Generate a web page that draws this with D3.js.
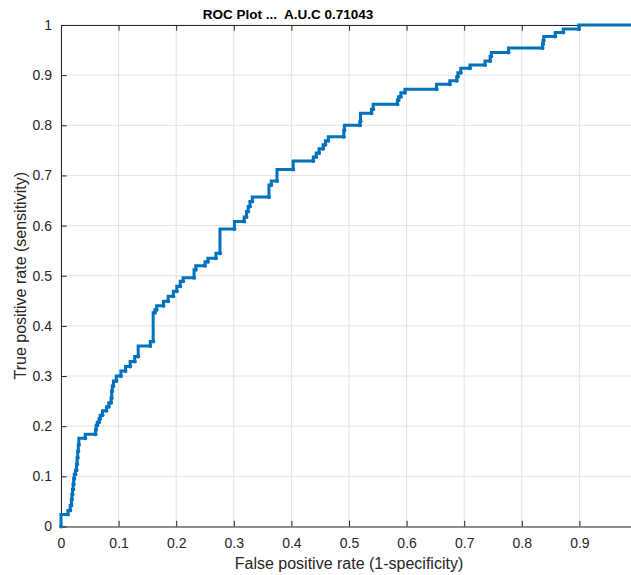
<!DOCTYPE html>
<html>

<head>
    <meta charset="UTF-8">
</head>

<body style="margin:0;background:#fff">
    <style>
        text {
            font-family: "Liberation Sans", Arial, sans-serif;
            fill: #262626;
        }
    </style>

    <div id="chart"></div>

    <script src="https://d3js.org/d3.v7.min.js"></script>
    <script>

        // ROC step corners: end of each horizontal run
        const fpr = [0, 0.012, 0.016, 0.018, 0.019, 0.020, 0.021, 0.022, 0.023, 0.025, 0.027, 0.028, 0.029, 0.030, 0.031,
            0.042, 0.060, 0.061, 0.063, 0.066, 0.068, 0.072, 0.079, 0.083, 0.087, 0.088, 0.089, 0.091, 0.096, 0.104,
            0.112, 0.120, 0.128, 0.134, 0.155, 0.160, 0.163, 0.166, 0.178, 0.186, 0.195, 0.201, 0.207, 0.212, 0.231,
            0.234, 0.250, 0.255, 0.269, 0.276, 0.301, 0.318, 0.322, 0.325, 0.328, 0.332, 0.361, 0.365, 0.375, 0.403,
            0.438, 0.443, 0.448, 0.455, 0.459, 0.464, 0.491, 0.492, 0.519, 0.520, 0.539, 0.542, 0.584, 0.586, 0.590,
            0.597, 0.652, 0.675, 0.687, 0.689, 0.694, 0.710, 0.736, 0.745, 0.747, 0.777, 0.836, 0.837, 0.838, 0.858,
            0.872, 0.899, 1.0];
        const tpr = [0, 0.024, 0.032, 0.042, 0.054, 0.064, 0.074, 0.084, 0.095, 0.104, 0.112, 0.124, 0.137, 0.150, 0.163,
            0.176, 0.184, 0.193, 0.202, 0.208, 0.215, 0.222, 0.231, 0.239, 0.247, 0.256, 0.270, 0.280, 0.290, 0.300,
            0.310, 0.319, 0.329, 0.339, 0.360, 0.369, 0.426, 0.432, 0.440, 0.449, 0.459, 0.469, 0.479, 0.489, 0.496,
            0.512, 0.520, 0.528, 0.535, 0.545, 0.593, 0.608, 0.617, 0.628, 0.638, 0.648, 0.657, 0.681, 0.689, 0.712,
            0.729, 0.737, 0.745, 0.753, 0.761, 0.769, 0.777, 0.790, 0.800, 0.808, 0.824, 0.832, 0.842, 0.850, 0.857,
            0.865, 0.872, 0.882, 0.889, 0.897, 0.905, 0.914, 0.920, 0.928, 0.937, 0.945, 0.954, 0.962, 0.969, 0.977,
            0.985, 0.992, 1.0];

        const xTicks = [0, 0.1, 0.2, 0.3, 0.4, 0.5, 0.6, 0.7, 0.8, 0.9, 1];
        const yTicks = [0, 0.1, 0.2, 0.3, 0.4, 0.5, 0.6, 0.7, 0.8, 0.9, 1];
        const titleText = "ROC Plot ...  A.U.C 0.71043";

        const W = 631, H = 575;
        // axes box runs past the right edge of the picture, as in the original
        const mLeft = 61, mRight = 637, mTop = 25, mBottom = 526.5;

        const svg = d3.select("#chart")
            .append("svg")
            .attr("width", W)
            .attr("height", H)
            .style("display", "block");

        const x = d3.scaleLinear().domain([0, 1]).range([mLeft, mRight]);
        const y = d3.scaleLinear().domain([0, 1]).range([mBottom, mTop]);

        // grid
        svg.append("g")
            .selectAll("line")
            .data(xTicks)
            .join("line")
            .attr("x1", d => x(d)).attr("x2", d => x(d))
            .attr("y1", mTop).attr("y2", mBottom)
            .attr("stroke", "#e3e3e3").attr("stroke-width", 1);
        svg.append("g")
            .selectAll("line")
            .data(yTicks)
            .join("line")
            .attr("x1", mLeft).attr("x2", mRight)
            .attr("y1", d => y(d)).attr("y2", d => y(d))
            .attr("stroke", "#e3e3e3").attr("stroke-width", 1);

        // axes (ticks point inward)
        const tick = 5.7;
        const fmt = d => d3.format("")(d);

        const xAxis = svg.append("g")
            .attr("transform", `translate(0,${mBottom})`)
            .call(d3.axisBottom(x).tickValues(xTicks).tickFormat(fmt).tickSizeInner(-tick).tickSizeOuter(0).tickPadding(12));
        const xTop = svg.append("g")
            .attr("transform", `translate(0,${mTop})`)
            .call(d3.axisTop(x).tickValues(xTicks).tickFormat("").tickSizeInner(-tick).tickSizeOuter(0));
        const yAxis = svg.append("g")
            .attr("transform", `translate(${mLeft},0)`)
            .call(d3.axisLeft(y).tickValues(yTicks).tickFormat(fmt).tickSizeInner(-tick).tickSizeOuter(0).tickPadding(9));
        const yRight = svg.append("g")
            .attr("transform", `translate(${mRight},0)`)
            .call(d3.axisRight(y).tickValues(yTicks).tickFormat("").tickSizeInner(-tick).tickSizeOuter(0));

        [xAxis, xTop, yAxis, yRight].forEach(g => {
            g.selectAll("path.domain").attr("stroke", "#262626").attr("stroke-width", 1);
            g.selectAll(".tick line").attr("stroke", "#262626");
            g.selectAll("text")
                .style("font-family", "'Liberation Sans', Arial, sans-serif")
                .style("font-size", "14px")
                .attr("fill", "#262626");
        });

        // ROC curve
        const pts = fpr.map((d, i) => [d, tpr[i]]);
        const line = d3.line()
            .x(d => x(d[0]))
            .y(d => y(d[1]))
            .curve(d3.curveStepBefore);

        svg.append("path")
            .datum(pts)
            .attr("d", line)
            .attr("fill", "none")
            .attr("stroke", "#0072BD")
            .attr("stroke-width", 3);

        svg.append("g")
            .selectAll("circle")
            .data(pts)
            .join("circle")
            .attr("cx", d => x(d[0]))
            .attr("cy", d => y(d[1]))
            .attr("r", 2)
            .attr("fill", "#0072BD");

        // title and labels
        svg.append("text")
            .attr("x", 288)
            .attr("y", 19)
            .attr("text-anchor", "middle")
            .style("font-size", "13.5px")
            .style("font-weight", "bold")
            .style("white-space", "pre")
            .style("fill", "#000")
            .text(titleText);

        svg.append("text")
            .attr("x", (mLeft + mRight) / 2)
            .attr("y", 569)
            .attr("text-anchor", "middle")
            .style("font-size", "16px")
            .text("False positive rate (1-specificity)");

        svg.append("text")
            .attr("transform", `translate(26,${(mTop + mBottom) / 2}) rotate(-90)`)
            .attr("text-anchor", "middle")
            .style("font-size", "16px")
            .text("True positive rate (sensitivity)");

    </script>
</body>

</html>
